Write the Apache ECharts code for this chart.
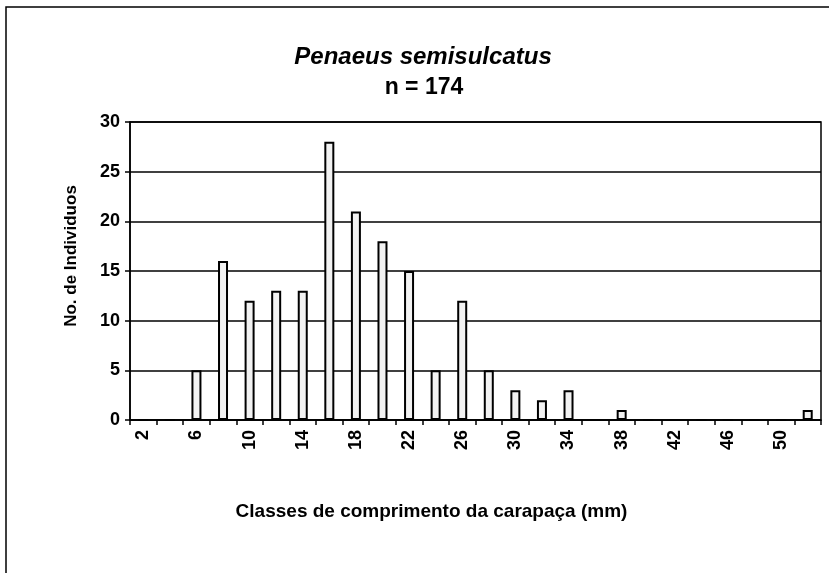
<!DOCTYPE html>
<html>
<head>
<meta charset="utf-8">
<script src="https://cdn.jsdelivr.net/npm/echarts@6/dist/echarts.min.js"></script>
<style>
html,body{margin:0;padding:0;background:#fff;}
#chart{width:829px;height:573px;}
</style>
</head>
<body>
<div id="chart"></div>
<script>
const titleText = 'Penaeus semisulcatus';
const subtitleText = 'n = 174';
const xAxisName = 'Classes de comprimento da carapaça (mm)';
const yAxisName = 'No. de Individuos';
const categories = ['2','4','6','8','10','12','14','16','18','20','22','24','26','28','30','32','34','36','38','40','42','44','46','48','50','52'];
const counts = [0,0,5,16,12,13,13,28,21,18,15,5,12,5,3,2,3,0,1,0,0,0,0,0,0,1];
const yMin = 0, yMax = 30, yStep = 5;

const FONT = '"Liberation Sans", Arial, sans-serif';
const chart = echarts.init(document.getElementById('chart'), null, {renderer:'canvas'});
chart.setOption({
  backgroundColor: '#fff',
  animation: false,
  title: [
    {text: titleText, left: 418, top: 40, textAlign: 'center',
     textStyle: {fontFamily: FONT, fontSize: 24, fontWeight: 'bold', fontStyle: 'italic', color: '#000'}},
    {text: subtitleText, left: 419, top: 71, textAlign: 'center',
     textStyle: {fontFamily: FONT, fontSize: 23, fontWeight: 'bold', color: '#000'}}
  ],
  graphic: [
    {type: 'polyline', shape: {points: [[6, 580], [6, 7], [840, 7]]},
     style: {stroke: '#000', lineWidth: 1.5, fill: null}, silent: true}
  ],
  grid: {left: 130, right: 8, top: 122, bottom: 153, show: true, borderColor: '#000', borderWidth: 1.5, backgroundColor: 'transparent'},
  xAxis: {
    type: 'category', data: categories,
    name: xAxisName, nameLocation: 'middle', nameGap: 82,
    nameTextStyle: {fontFamily: FONT, fontSize: 19, fontWeight: 'bold', color: '#000', padding: [0, 88, 0, 0]},
    axisLine: {lineStyle: {color: '#000', width: 1.5}},
    axisTick: {show: true, interval: 0, length: 5, lineStyle: {color: '#000', width: 1.5}},
    axisLabel: {interval: 1, rotate: 90, margin: 10, fontFamily: FONT, fontSize: 18, fontWeight: 'bold', color: '#000'},
    splitLine: {show: false}
  },
  yAxis: {
    type: 'value', min: yMin, max: yMax, interval: yStep,
    name: yAxisName, nameLocation: 'middle', nameGap: 50, nameRotate: 90,
    nameTextStyle: {fontFamily: FONT, fontSize: 17, fontWeight: 'bold', color: '#000', padding: [0, 0, 0, 30]},
    axisLine: {show: true, lineStyle: {color: '#000', width: 1.5}},
    axisTick: {show: true, length: 5, lineStyle: {color: '#000', width: 1.5}},
    axisLabel: {margin: 10, fontFamily: FONT, fontSize: 18, fontWeight: 'bold', color: '#000'},
    splitLine: {show: true, lineStyle: {color: '#000', width: 1.5}}
  },
  series: [{
    type: 'bar', data: counts, barWidth: 10,
    itemStyle: {color: '#f2f2f2', borderColor: '#000', borderWidth: 2}
  }]
});
</script>
</body>
</html>
